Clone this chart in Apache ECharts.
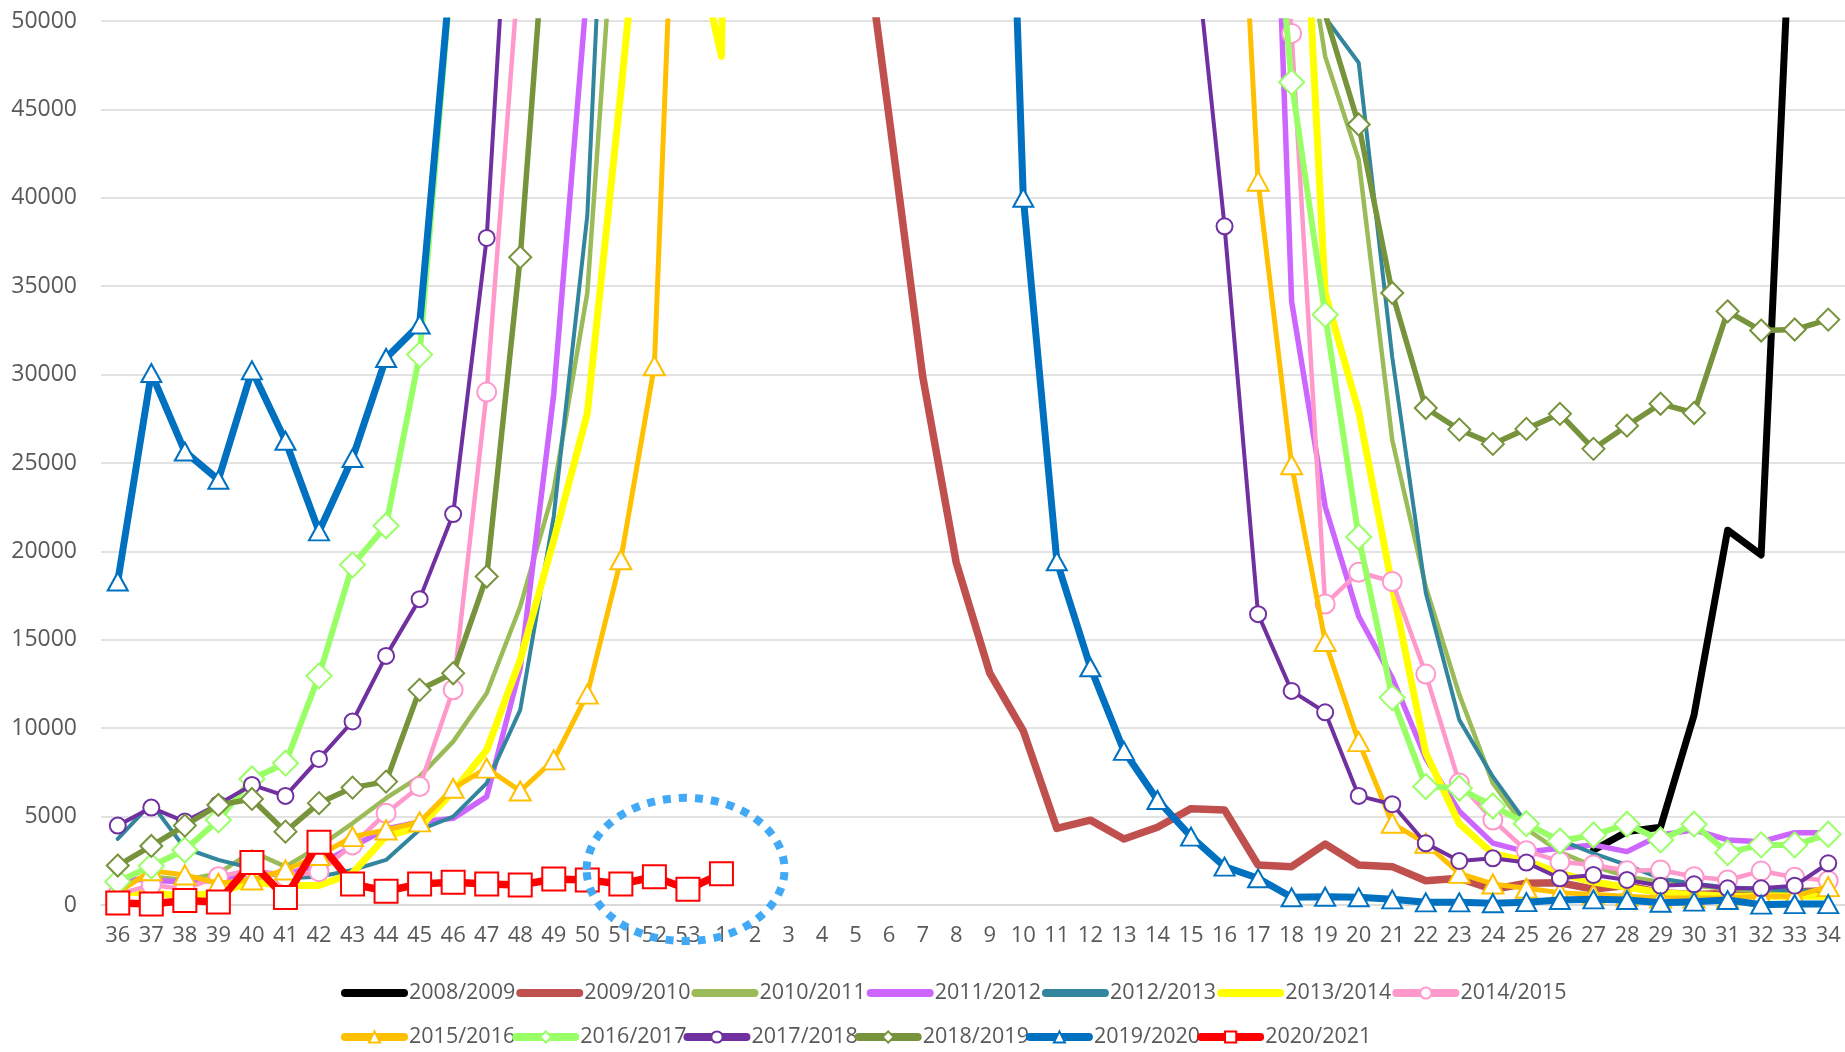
<!DOCTYPE html>
<html><head><meta charset="utf-8">
<script src="https://cdn.jsdelivr.net/npm/echarts@6/dist/echarts.min.js"></script>
<style>html,body{margin:0;padding:0;background:#fff}#c{width:1845px;height:1052px}</style>
</head><body><div id="c"></div>
<script>
const weeks = ['36','37','38','39','40','41','42','43','44','45','46','47','48','49','50','51','52','53',
  '1','2','3','4','5','6','7','8','9','10','11','12','13','14','15','16','17','18','19','20','21','22','23','24','25','26','27','28','29','30','31','32','33','34'];

const yTicks = {min: 0, max: 50000, step: 5000};

const s0809 = [null,null,null,null,null,null,null,null,null,null,null,null,null,null,null,null,null,null,
  null,null,null,null,null,null,null,null,null,null,null,null,null,null,null,null,null,null,null,null,null,null,null,null,null,null,3100,4150,4400,10750,21200,19800,61000,110000];
const s0910 = [90000,120000,150000,200000,300000,400000,500000,600000,700000,650000,550000,450000,350000,250000,200000,150000,120000,100000,
  90000,80000,75000,70000,59000,44540,29900,19370,13120,9850,4330,4800,3730,4400,5450,5380,2260,2170,3450,2260,2170,1375,1510,880,1230,1260,900,1100,700,600,650,700,750,800];
const s1011 = [1300,1600,1420,1790,3020,2170,3300,4620,6040,7260,9240,11980,16880,23490,34620,61600,90000,110000,
  130000,160000,200000,220000,210000,190000,170000,150000,140000,130000,120000,110000,100000,95000,90000,85000,75000,60000,48000,42160,26300,18000,11900,6890,4300,3000,2200,1600,1300,1100,900,800,700,700];
const s1112 = [1500,1400,1300,1400,1900,1700,2300,3300,4300,4700,4900,6130,13400,28900,52000,80000,110000,130000,
  150000,200000,250000,300000,320000,300000,270000,240000,210000,190000,170000,150000,130000,120000,110000,100000,87000,34140,22540,16320,12850,8300,5300,3500,3000,3210,3400,3020,3960,4250,3680,3580,4090,4090];
const s1213 = [3735,5750,3210,2550,2080,1510,1600,1980,2550,4250,5000,6890,11040,22000,39000,79700,120000,150000,
  180000,220000,260000,280000,270000,250000,230000,210000,190000,170000,160000,150000,140000,130000,120000,110000,95000,70000,50200,47640,31000,17660,10470,7260,4630,3680,2920,2260,1500,1200,1000,900,800,800];
const s1314 = [700,700,500,700,1300,1100,1100,1800,3900,4400,6410,8770,13870,20640,27800,46000,65000,56400,
  48000,150000,200000,250000,280000,260000,240000,220000,200000,180000,160000,150000,140000,130000,120000,110000,90000,72160,34600,27920,18000,8600,4600,2900,2500,1800,1300,1000,700,600,500,500,500,500];
const s1415 = [600,1130,900,1600,2000,1600,1885,3400,5190,6700,12170,29010,54000,90000,130000,170000,200000,220000,
  240000,260000,270000,260000,240000,220000,200000,180000,160000,150000,140000,130000,120000,110000,100000,90000,80000,49300,17020,18820,18300,13060,6900,4810,3070,2450,2260,1940,1980,1600,1415,1920,1570,1375];
const s1516 = [700,1940,1700,1230,1415,1980,2800,3870,4245,4700,6600,7740,6450,8210,11930,19530,30500,79250,
  110000,150000,190000,230000,260000,280000,270000,250000,220000,200000,180000,160000,140000,120000,100000,77180,40940,24900,14900,9240,4620,3490,1790,1190,945,700,600,500,400,400,400,500,500,1040];
const s1617 = [1320,2200,3110,4810,7130,8020,12960,19240,21450,31130,54000,90000,130000,170000,200000,230000,250000,260000,
  270000,260000,240000,220000,200000,180000,160000,150000,140000,130000,120000,110000,100000,90000,80000,75000,68160,46540,33390,20810,11730,6700,6600,5600,4600,3620,3960,4570,3680,4570,2960,3400,3400,4000];
const s1718 = [4490,5510,4720,5700,6790,6170,8260,10380,14090,17300,22110,37730,69190,110000,150000,190000,230000,260000,
  280000,300000,320000,300000,270000,240000,210000,180000,160000,140000,120000,100000,85000,70000,56530,38390,16450,12110,10900,6170,5700,3490,2490,2640,2400,1510,1700,1415,1090,1170,945,945,1090,2360];
const s1819 = [2230,3340,4490,5660,6000,4150,5760,6640,6980,12170,13110,18580,36640,61840,100000,140000,180000,220000,
  250000,280000,300000,290000,270000,250000,220000,200000,180000,160000,140000,130000,120000,110000,100000,95000,90000,80000,50400,44150,34620,28110,26890,26080,26930,27780,25800,27110,28350,27830,33580,32490,32550,33110];
const s1920 = [18300,30090,25650,24050,30240,26260,21130,25280,30940,32830,54300,90000,130000,170000,210000,250000,280000,300000,
  310000,300000,280000,250000,220000,190000,160000,130000,95500,40000,19440,13450,8720,5940,3870,2170,1510,435,470,435,320,150,150,100,160,280,320,280,130,190,280,20,50,50];
const s2021 = [120,60,250,170,2400,420,3550,1190,780,1190,1290,1190,1130,1470,1420,1190,1600,890,
  1770,null,null,null,null,null,null,null,null,null,null,null,null,null,null,null,null,null,null,null,null,null,null,null,null,null,null,null,null,null,null,null,null,null];

const seasons = ['2008/2009','2009/2010','2010/2011','2011/2012','2012/2013','2013/2014','2014/2015',
  '2015/2016','2016/2017','2017/2018','2018/2019','2019/2020','2020/2021'];
const seasonData = [s0809,s0910,s1011,s1112,s1213,s1314,s1415,s1516,s1617,s1718,s1819,s1920,s2021];

// annotation ring: centre (category index, value) and radii (categories, value units)
const ring = {x: 16.93, y: 2010, rx: 2.95, ry: 4050};

// styles
const colors = ['#000000','#C0504D','#9BBB59','#CC66FF','#31859C','#FFFF00','#FF99CC','#FFC000','#99FF66','#7030A0','#77933C','#0070C0','#FF0000'];
const symbols = ['none','none','none','none','none','none','circle','triangle','diamond','circle','diamond','triangle','rect'];
const symSizes = [0,0,0,0,0,0,19,[21,19],25,16,22,[20,18],23];
const widths = [7,7.5,4.5,5.5,4,7,4.5,5,6,4,5.5,7,7.5];

const FONT = 'Open Sans';
const chart = echarts.init(document.getElementById('c'), null, {renderer:'canvas'});

const series = seasons.map((n,i)=>({
  name:n, type:'line', data: seasonData[i], z: 2+i,
  symbol: symbols[i], symbolSize: symSizes[i], showSymbol: symbols[i] !== 'none',
  lineStyle:{color:colors[i], width:widths[i], cap:'round', join:'round'},
  itemStyle: symbols[i]==='none' ? {color:colors[i]} : {color:'#ffffff', borderColor:colors[i], borderWidth:2},
  emphasis:{disabled:true}, clip:true, animation:false
}));

const legendItems = seasons.map((n,i)=> symbols[i]==='none'
  ? {name:n, itemStyle:{opacity:0, borderWidth:0}}
  : {name:n});

const legendBase = {
  left: 336, itemWidth: 59, itemHeight: 14, itemGap: 1, padding: 5,
  textStyle:{color:'#595959', fontSize:21.5, fontFamily:FONT},
  lineStyle:{width:8, cap:'round'}, selectedMode:false
};

chart.setOption({
  animation:false,
  backgroundColor:'#ffffff',
  grid:{left:101, right:0, top:21, bottom:147, containLabel:false},
  xAxis:{type:'category', data:weeks, boundaryGap:true,
    axisTick:{show:false}, axisLine:{show:true, lineStyle:{color:'#D9D9D9', width:1.5}},
    axisLabel:{interval:0, color:'#595959', fontSize:22, fontFamily:FONT, margin:20}},
  yAxis:{type:'value', min:yTicks.min, max:yTicks.max, interval:yTicks.step,
    axisLine:{show:false}, axisTick:{show:false},
    splitLine:{lineStyle:{color:'#D9D9D9', width:1.5}},
    axisLabel:{color:'#595959', fontSize:23, fontFamily:FONT, margin:24, formatter: v => String(v)}},
  legend:[
    Object.assign({}, legendBase, {data: legendItems.slice(0,7), top: 977}),
    Object.assign({}, legendBase, {data: legendItems.slice(7), top: 1021, itemGap: -3})
  ],
  series: series
});

const a = chart.convertToPixel({gridIndex:0}, [16, ring.y]);
const b = chart.convertToPixel({gridIndex:0}, [17, ring.y + ring.ry]);
const catW = b[0] - a[0];
chart.setOption({graphic:[{type:'ellipse', z:100,
  shape:{cx: a[0] + (ring.x-16)*catW, cy: a[1], rx: ring.rx*catW, ry: a[1]-b[1]},
  style:{fill:'none', stroke:'#41A9F5', lineWidth:8, lineDash:[8,8]}}]});
</script></body></html>
